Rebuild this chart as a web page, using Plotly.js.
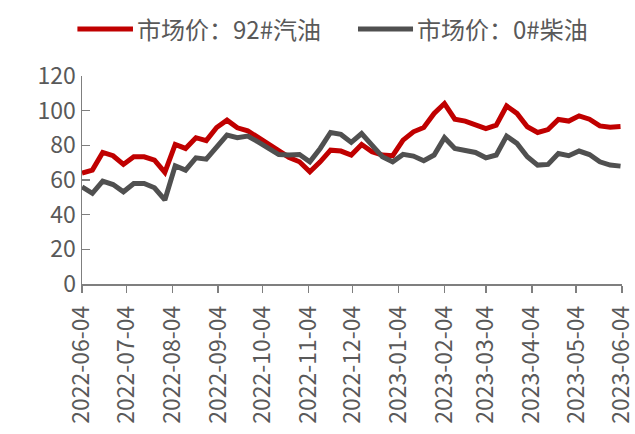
<!DOCTYPE html>
<html>
<head>
<meta charset="utf-8">
<script src="https://cdn.plot.ly/plotly-3.0.1.min.js"></script>
<style>html,body{margin:0;padding:0;background:#fff;}#chart{width:635px;height:434px;}</style>
</head>
<body>
<div id="chart"></div>
<script>
// Weekly observations starting 2022-06-04
const startDate = '2022-06-04';
const gasoline92 = [64, 65.7, 75.9, 74, 69, 73.4, 73.4, 71.5, 64.4, 80.5, 78.2, 84.4, 82.7, 90.3, 94.5, 90.1, 88.4, 84.5, 80.7, 76.7, 73, 70.5, 64.7, 70.5, 77.2, 76.7, 74.4, 80.5, 76.3, 74.4, 74, 83, 87.8, 90.3, 98.4, 104.1, 95.1, 94, 91.6, 89.7, 91.6, 102.7, 98.4, 90.7, 87.4, 89.1, 94.9, 94, 97, 95.1, 91.2, 90.5, 90.9];
const diesel0 = [56, 52.3, 59.4, 57.4, 53.2, 58, 58, 55.5, 48.5, 68.2, 65.7, 72.8, 72, 79.1, 85.9, 84.4, 85.3, 82, 78.2, 74.7, 74.4, 74.7, 70.5, 78.2, 87.4, 86.3, 81.7, 86.8, 80.1, 73.4, 70.5, 74.8, 73.8, 71.1, 74.4, 84.4, 78.2, 77.2, 75.9, 72.8, 74.4, 85.3, 81.1, 73.4, 68.6, 69, 75.3, 74, 76.7, 74.7, 70.5, 68.6, 68];
const tickDates = ['2022-06-04','2022-07-04','2022-08-04','2022-09-04','2022-10-04','2022-11-04','2022-12-04','2023-01-04','2023-02-04','2023-03-04','2023-04-04','2023-05-04','2023-06-04'];
const seriesNames = ['市场价：92#汽油', '市场价：0#柴油'];
const seriesColors = ['#C00000', '#505050'];

function weeklyDates(start, n) {
  const out = [];
  const d0 = new Date(start + 'T00:00:00Z');
  for (let i = 0; i < n; i++) {
    const d = new Date(d0.getTime() + i * 7 * 86400000);
    out.push(d.toISOString().slice(0, 10));
  }
  return out;
}
const dates = weeklyDates(startDate, gasoline92.length);

const font = 'Noto Sans CJK SC, Noto Sans, sans-serif';
const textColor = '#595959';

const traces = [
  {x: dates, y: gasoline92, name: seriesNames[0], type: 'scatter', mode: 'lines',
   line: {color: seriesColors[0], width: 5, shape: 'linear'}},
  {x: dates, y: diesel0, name: seriesNames[1], type: 'scatter', mode: 'lines',
   line: {color: seriesColors[1], width: 5, shape: 'linear'}}
];

// Legend drawn as shapes + annotations (paper coordinates)
const legendY = 1.226;
const legendItems = [
  {x0: -0.0085, x1: 0.0944, tx: 0.0974},
  {x0: 0.5111, x1: 0.613, tx: 0.6167}
];
const shapes = legendItems.map((it, i) => ({
  type: 'line', xref: 'paper', yref: 'paper', x0: it.x0, x1: it.x1, y0: legendY, y1: legendY,
  line: {color: seriesColors[i], width: 5}
}));
const annotations = legendItems.map((it, i) => ({
  xref: 'paper', yref: 'paper', x: it.tx, y: legendY, xanchor: 'left', yanchor: 'middle',
  text: seriesNames[i], showarrow: false,
  font: {family: font, size: 24, color: textColor}
}));

const layout = {
  width: 635, height: 434,
  margin: {l: 82, r: 13, t: 76, b: 150},
  paper_bgcolor: '#fff', plot_bgcolor: '#fff',
  font: {family: font, size: 23, color: textColor},
  showlegend: false,
  shapes: shapes,
  annotations: annotations,
  xaxis: {
    type: 'date', range: ['2022-06-04', '2023-06-04'],
    tickvals: tickDates, ticktext: tickDates, tickangle: -90,
    showgrid: false, zeroline: false, showline: true, linecolor: '#7f7f7f', linewidth: 1.5,
    ticks: 'outside', ticklen: 7, tickcolor: '#7f7f7f', tickwidth: 1.5,
    ticklabelstandoff: 4, ticklabeloverflow: 'allow',
    tickfont: {family: font, size: 23, color: textColor}
  },
  yaxis: {
    range: [0, 120], dtick: 20, tick0: 0,
    showgrid: false, zeroline: false, showline: true, linecolor: '#7f7f7f', linewidth: 1.5,
    ticks: 'inside', ticklen: 8, tickcolor: '#7f7f7f', tickwidth: 1.5,
    tickfont: {family: font, size: 23, color: textColor}
  }
};

Plotly.newPlot('chart', traces, layout, {displayModeBar: false, staticPlot: true});
</script>
</body>
</html>
